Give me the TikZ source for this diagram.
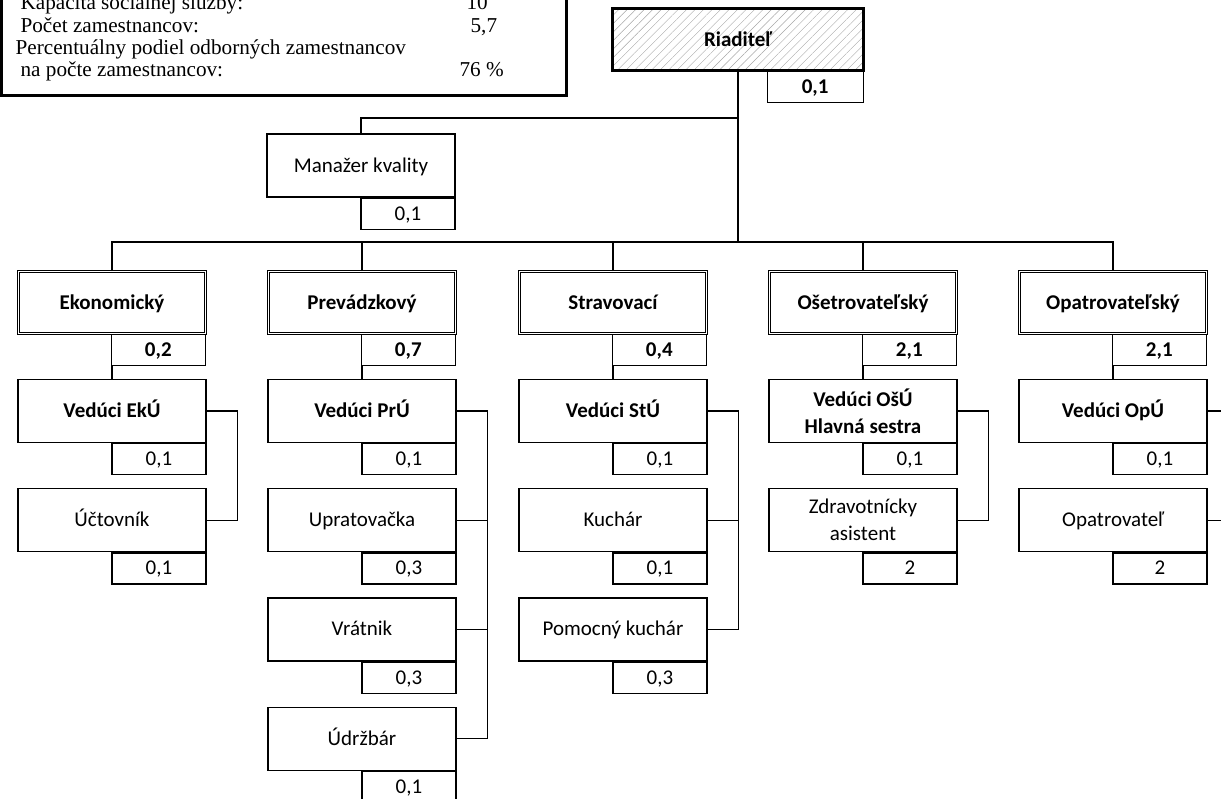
\documentclass[tikz,border=0pt]{standalone}
\usepackage{fontspec}
\setmainfont{Carlito}
\newfontfamily\infofont{Liberation Serif}
\usetikzlibrary{positioning}
\usetikzlibrary{patterns.meta}
\newcommand{\boxfont}{\fontsize{21}{27}\selectfont}
\newcommand{\infosize}{\infofont\fontsize{21.2}{22}\selectfont}

\begin{document}
\begin{tikzpicture}[x=1pt,y=-1pt,line width=1.2pt,node distance=45pt,
		every node/.style={font=\boxfont},
		oneline/.style={text height=15pt,text depth=2pt},
		headnode/.style={rectangle,draw,line width=3pt,minimum width=251pt,minimum height=62pt,oneline,font=\boxfont\bfseries,
			pattern={Lines[angle=45,distance=6pt,line width=0.4pt]},pattern color=gray!70},
		deptnode/.style={rectangle,draw,double,double distance=1.6pt,line width=0.8pt,minimum width=187pt,minimum height=62pt,oneline,font=\boxfont\bfseries},
		staffnode/.style={rectangle,draw,minimum width=188pt,minimum height=63pt,align=center,inner sep=2pt},
		leadnode/.style={staffnode,font=\boxfont\bfseries},
		valnode/.style={rectangle,draw,minimum width=94pt,minimum height=31pt,inner sep=0pt,oneline,anchor=north east},
		bvalnode/.style={valnode,font=\boxfont\bfseries},
		infotext/.style={anchor=base west,inner sep=0pt,font=\infosize}
		]
		\useasboundingbox (0,0) rectangle (1221,798);

		% summary box
		\node[draw,line width=3pt,minimum width=565pt,minimum height=120pt,anchor=south west,inner sep=0pt] (info) at (0,97) {};
		\node[infotext] (kap) at (20,9.5) {Kapacita sociálnej služby:};
		\node[infotext] (kapv) at (466,9.5) {10};
		\node[infotext] (poc) at (20,32) {Počet zamestnancov:};
		\node[infotext] (pocv) at (470,32) {5,7};
		\node[infotext] (per) at (15,54) {Percentuálny podiel odborných zamestnancov};
		\node[infotext] (na) at (20,76) {na počte zamestnancov:};
		\node[infotext] (nav) at (459,76) {76 \%};

		% top
		\node[headnode] (riad) at (738,39.5) {Riaditeľ};
		\node[bvalnode,minimum width=96pt] (riadv) at (riad.south east) {0,1};
		\node[staffnode,oneline] (man) at (361,165.5) {Manažer kvality};
		\node[valnode] (manv) at (man.south east) {0,1};

		% departments
		\node[deptnode] (eko) at (112,302.5) {Ekonomický};
		\node[deptnode] (pre) at (362,302.5) {Prevádzkový};
		\node[deptnode] (str) at (613,302.5) {Stravovací};
		\node[deptnode] (ose) at (863,302.5) {Ošetrovateľský};
		\node[deptnode] (opa) at (1113,302.5) {Opatrovateľský};
		\node[bvalnode] (ekov) at (eko.south east) {0,2};
		\node[bvalnode] (prev) at (pre.south east) {0,7};
		\node[bvalnode] (strv) at (str.south east) {0,4};
		\node[bvalnode] (osev) at (ose.south east) {2,1};
		\node[bvalnode] (opav) at (opa.south east) {2,1};

		% Ekonomicky
		\node[leadnode,oneline,below=of eko] (vek) {Vedúci EkÚ};
		\node[valnode] (vekv) at (vek.south east) {0,1};
		\node[staffnode,oneline,below=of vek] (uct) {Účtovník};
		\node[valnode] (uctv) at (uct.south east) {0,1};

		% Prevadzkovy
		\node[leadnode,oneline,below=of pre] (vpr) {Vedúci PrÚ};
		\node[valnode] (vprv) at (vpr.south east) {0,1};
		\node[staffnode,oneline,below=of vpr] (upr) {Upratovačka};
		\node[valnode] (uprv) at (upr.south east) {0,3};
		\node[staffnode,oneline,below=of upr] (vra) {Vrátnik};
		\node[valnode] (vrav) at (vra.south east) {0,3};
		\node[staffnode,oneline,below=of vra] (udr) {Údržbár};
		\node[valnode] (udrv) at (udr.south east) {0,1};

		% Stravovaci
		\node[leadnode,oneline,below=of str] (vst) {Vedúci StÚ};
		\node[valnode] (vstv) at (vst.south east) {0,1};
		\node[staffnode,oneline,below=of vst] (kuc) {Kuchár};
		\node[valnode] (kucv) at (kuc.south east) {0,1};
		\node[staffnode,oneline,below=of kuc] (pku) {Pomocný kuchár};
		\node[valnode] (pkuv) at (pku.south east) {0,3};

		% Osetrovatelsky
		\node[leadnode,below=of ose] (vos) {Vedúci OšÚ\\Hlavná sestra};
		\node[valnode] (vosv) at (vos.south east) {0,1};
		\node[staffnode,below=of vos] (zdr) {Zdravotnícky\\asistent};
		\node[valnode] (zdrv) at (zdr.south east) {2};

		% Opatrovatelsky
		\node[leadnode,oneline,below=of opa] (vop) {Vedúci OpÚ};
		\node[valnode] (vopv) at (vop.south east) {0,1};
		\node[staffnode,oneline,below=of vop] (opt) {Opatrovateľ};
		\node[valnode] (optv) at (opt.south east) {2};

		% connectors
		\coordinate (mk) at (738,118);
		\coordinate (bus) at (738,242);
		\draw (riad.south) -- (bus);
		\draw (mk) -| (man.north);
		\draw (eko.north) |- (bus) -| (opa.north);
		\foreach \d in {pre,str,ose}
			\draw (\d.north) -- (\d.north |- bus);
		\draw (vek.north) -- (vek.north |- ekov.south);
		\draw (vpr.north) -- (vpr.north |- prev.south);
		\draw (vst.north) -- (vst.north |- strv.south);
		\draw (vos.north) -- (vos.north |- osev.south);
		\draw (vop.north) -- (vop.north |- opav.south);

		\draw (vek.east) -- ++(31,0) |- (uct.east);
		\draw (vpr.east) -- ++(31,0) coordinate (prb) |- (udr.east);
		\draw (upr.east) -- (upr.east -| prb);
		\draw (vra.east) -- (vra.east -| prb);
		\draw (vst.east) -- ++(31,0) coordinate (stb) |- (pku.east);
		\draw (kuc.east) -- (kuc.east -| stb);
		\draw (vos.east) -- ++(31,0) |- (zdr.east);
		\draw (vop.east) -- ++(31,0) |- (opt.east);
\end{tikzpicture}
\end{document}
